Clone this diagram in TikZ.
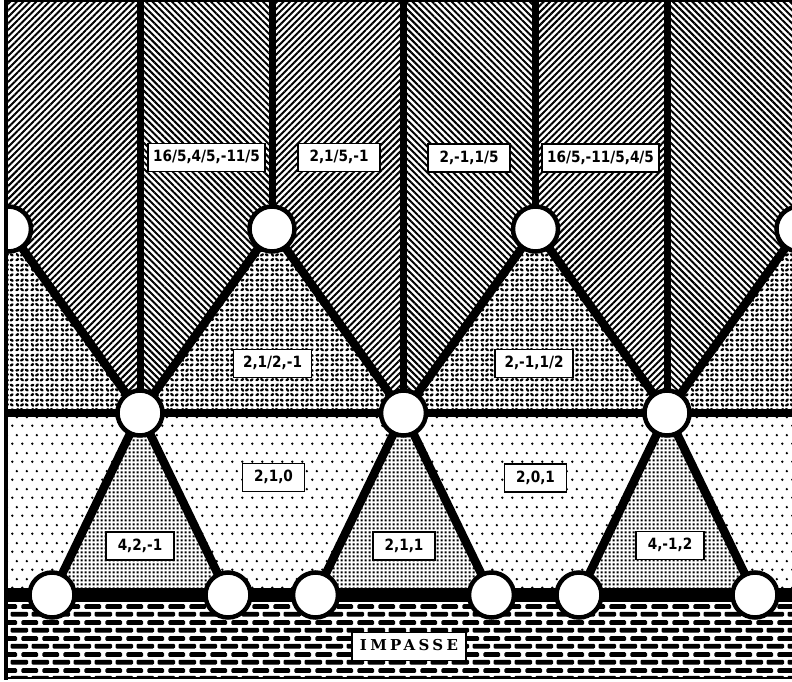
\documentclass[tikz,border=0pt]{standalone}
\usepackage{fontspec}
\newfontfamily\lblfont[FakeStretch=0.88]{DejaVu Sans}
\newfontfamily\impfont[LetterSpace=22]{DejaVu Serif}
\usetikzlibrary{patterns,patterns.meta}
\pgfdeclarelayer{bg}
\pgfsetlayers{bg,main}

% sparse dots (lower band)
\pgfdeclarepatternformonly{sparsedots}{\pgfqpoint{0pt}{0pt}}{\pgfqpoint{10pt}{18pt}}{\pgfqpoint{10pt}{18pt}}{%
  \pgfpathcircle{\pgfqpoint{2.5pt}{4.5pt}}{1.4pt}%
  \pgfpathcircle{\pgfqpoint{7.5pt}{13.5pt}}{1.4pt}%
  \pgfusepath{fill}}
% fine dots (lower triangles)
\pgfdeclarepatternformonly{finedots}{\pgfqpoint{0pt}{0pt}}{\pgfqpoint{4pt}{4pt}}{\pgfqpoint{4pt}{4pt}}{%
  \pgfpathrectangle{\pgfqpoint{0.75pt}{0.75pt}}{\pgfqpoint{2.5pt}{2.5pt}}%
  \pgfusepath{fill}}
% squiggles (upper triangles)
\pgfdeclarepatternformonly{squiggles}{\pgfqpoint{0pt}{0pt}}{\pgfqpoint{15pt}{15pt}}{\pgfqpoint{15pt}{15pt}}{%
  \pgfsetlinewidth{2.5pt}\pgfsetroundcap
  \pgfpathmoveto{\pgfqpoint{1.6pt}{2.0pt}}\pgfpathlineto{\pgfqpoint{3.4pt}{3.0pt}}%
  \pgfpathmoveto{\pgfqpoint{6.6pt}{3.2pt}}\pgfpathlineto{\pgfqpoint{8.4pt}{1.8pt}}%
  \pgfpathmoveto{\pgfqpoint{11.5pt}{1.6pt}}\pgfpathlineto{\pgfqpoint{13.3pt}{2.8pt}}%
  \pgfpathmoveto{\pgfqpoint{2.0pt}{8.4pt}}\pgfpathlineto{\pgfqpoint{3.4pt}{6.6pt}}%
  \pgfpathmoveto{\pgfqpoint{6.5pt}{6.9pt}}\pgfpathlineto{\pgfqpoint{8.5pt}{8.1pt}}%
  \pgfpathmoveto{\pgfqpoint{11.6pt}{8.2pt}}\pgfpathlineto{\pgfqpoint{13.4pt}{7.0pt}}%
  \pgfpathmoveto{\pgfqpoint{1.5pt}{12.2pt}}\pgfpathlineto{\pgfqpoint{3.5pt}{12.8pt}}%
  \pgfpathmoveto{\pgfqpoint{6.8pt}{11.6pt}}\pgfpathlineto{\pgfqpoint{8.2pt}{13.4pt}}%
  \pgfpathmoveto{\pgfqpoint{11.5pt}{13.0pt}}\pgfpathlineto{\pgfqpoint{13.5pt}{11.9pt}}%
  \pgfusepath{stroke}}
% bricks (bottom strip)
\pgfdeclarepatternformonly{brickwall}{\pgfqpoint{0pt}{0pt}}{\pgfqpoint{20.5pt}{16pt}}{\pgfqpoint{20.5pt}{16pt}}{%
  \pgfsetcornersarced{\pgfqpoint{1.2pt}{1.2pt}}%
  \pgfpathrectangle{\pgfqpoint{0.5pt}{9.5pt}}{\pgfqpoint{17pt}{5pt}}%
  \pgfpathrectangle{\pgfqpoint{10.75pt}{1.5pt}}{\pgfqpoint{17pt}{5pt}}%
  \pgfpathrectangle{\pgfqpoint{-9.75pt}{1.5pt}}{\pgfqpoint{17pt}{5pt}}%
  \pgfusepath{fill}}

\begin{document}
\begin{tikzpicture}[x=1pt,y=-1pt,
  vtx/.style={circle,draw,fill=white,line width=4.5pt,minimum size=45pt,inner sep=0pt},
  edge/.style={line width=8.5pt,line join=round},
  lbl/.style={draw,fill=white,line width=1.8pt,font=\lblfont\bfseries\fontsize{15.5}{16}\selectfont,
    text height=11.5pt,text depth=3pt,inner xsep=11.5pt,inner ysep=6.8pt},
  ne/.style={pattern={Lines[angle=45,distance=4.6pt,line width=2pt]}},
  nw/.style={pattern={Lines[angle=-45,distance=4.6pt,line width=2pt]}}]
  \useasboundingbox (0,0) rectangle (792,682);
  \path (0,0) coordinate (lft) (800,0) coordinate (rgt) (0,682) coordinate (bot);

  \begin{scope}
    \clip (6,1) rectangle (792,678);
    \foreach \n/\x/\y in {u0/8.5/229,u1/272/229,u2/535.5/229,u3/799/229,
        m1/140/413,m2/403.5/413,m3/667/413,
        b1/52/595,b2/228/595,b3/315.5/595,b4/491.5/595,b5/579/595,b6/755/595}
      \node[vtx] (\n) at (\x,\y) {};
  \end{scope}

  \begin{pgfonlayer}{bg}
  \begin{scope}
    \clip (6,1) rectangle (792,678);
    % hatched strips
    \fill[ne] (lft) -- (m1 |- lft) -- (m1.center) -- (u0.center) -- (u0 -| lft) -- cycle;
    \fill[nw] (m1 |- lft) -- (u1 |- lft) -- (u1.center) -- (m1.center) -- cycle;
    \fill[ne] (u1 |- lft) -- (m2 |- lft) -- (m2.center) -- (u1.center) -- cycle;
    \fill[nw] (m2 |- lft) -- (u2 |- lft) -- (u2.center) -- (m2.center) -- cycle;
    \fill[ne] (u2 |- lft) -- (m3 |- lft) -- (m3.center) -- (u2.center) -- cycle;
    \fill[nw] (m3 |- lft) -- (rgt) -- (u3 -| rgt) -- (u3.center) -- (m3.center) -- cycle;
    % upper triangles
    \fill[pattern=squiggles] (u0 -| lft) -- (u0.center) -- (m1.center) -- (m1 -| lft) -- cycle
      (u1.center) -- (m1.center) -- (m2.center) -- cycle
      (u2.center) -- (m2.center) -- (m3.center) -- cycle
      (u3.center) -- (u3 -| rgt) -- (m3 -| rgt) -- (m3.center) -- cycle;
    % lower band
    \fill[pattern=sparsedots] (m1 -| lft) -- (m1.center) -- (b1.center) -- (b1 -| lft) -- cycle
      (m1.center) -- (m2.center) -- (b3.center) -- (b2.center) -- cycle
      (m2.center) -- (m3.center) -- (b5.center) -- (b4.center) -- cycle
      (m3.center) -- (m3 -| rgt) -- (b6 -| rgt) -- (b6.center) -- cycle;
    \fill[pattern=finedots] (m1.center) -- (b1.center) -- (b2.center) -- cycle
      (m2.center) -- (b3.center) -- (b4.center) -- cycle
      (m3.center) -- (b5.center) -- (b6.center) -- cycle;
    \fill[pattern=brickwall] (b1 -| lft) rectangle (rgt |- bot);
    % lines
    \draw[edge] (u0.center) -- (m1.center) -- (u1.center) -- (m2.center) -- (u2.center) -- (m3.center) -- (u3.center);
    \foreach \n in {m1,u1,m2,u2,m3} \draw[edge,line width=7pt] (\n.center) -- (\n |- lft);
    \draw[edge] (m1 -| lft) -- (m3 -| rgt);
    \draw[edge] (b1.center) -- (m1.center) -- (b2.center) (b3.center) -- (m2.center) -- (b4.center)
      (b5.center) -- (m3.center) -- (b6.center);
    \draw[line width=14pt] (b1 -| lft) -- (b6 -| rgt);
  \end{scope}
  \end{pgfonlayer}

  % frame
  \draw[line width=4pt] (6,0) -- (6,680);
  \draw[line width=1.5pt] (6,1) -- (792,1);
  \draw[line width=2.5pt] (6,678) -- (792,678);

  % labels
  \node[lbl,inner xsep=5pt] (t1) at (206.5,157.5) {16/5,4/5,-11/5};
  \node[lbl] (t2) at (339,157.5) {2,1/5,-1};
  \node[lbl] (t3) at (469,158) {2,-1,1/5};
  \node[lbl,inner xsep=5pt] (t4) at (600.5,158) {16/5,-11/5,4/5};
  \node[lbl,inner xsep=9.5pt] (s1) at (272.5,363.5) {2,1/2,-1};
  \node[lbl,inner xsep=9.5pt] (s2) at (534,363.5) {2,-1,1/2};
  \node[lbl] (r1) at (273.5,477.5) {2,1,0};
  \node[lbl] (r2) at (535.5,478) {2,0,1};
  \node[lbl] (q1) at (140,546) {4,2,-1};
  \node[lbl] (q2) at (404,546) {2,1,1};
  \node[lbl] (q3) at (670,545.5) {4,-1,2};
  \node[lbl,font=\impfont\bfseries\fontsize{15}{16}\selectfont,inner xsep=8pt] (imp) at (409,646.5) {IMPASSE};
\end{tikzpicture}
\end{document}
